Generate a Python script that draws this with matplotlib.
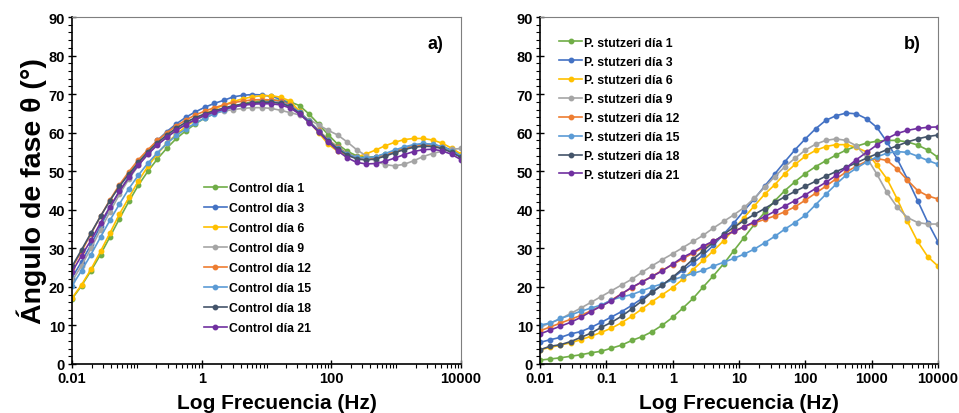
import numpy as np
import matplotlib
matplotlib.use('Agg')
import matplotlib.pyplot as plt
from matplotlib.ticker import LogLocator, FixedLocator, MultipleLocator, NullFormatter

plt.rcParams['font.family'] = ['Liberation Sans', 'DejaVu Sans']

# frequency grids (Hz)
freq_a = [0.01, 0.01401, 0.01963, 0.0275, 0.03852, 0.05393, 0.07551, 0.1058,
          0.1482, 0.2075, 0.2906, 0.4072, 0.5703, 0.7989, 1.119, 1.567, 2.195,
          3.075, 4.307, 6.033, 8.45, 11.84, 16.58, 23.22, 32.52, 45.56, 63.81,
          89.39, 125.2, 175.4, 245.6, 344.1, 482.0, 675.1, 945.4, 1324, 1855,
          2598, 3640, 5098, 7141, 10000]
freq_b = [0.01, 0.01425, 0.02031, 0.02894, 0.04125, 0.05878, 0.08377, 0.1194,
          0.1701, 0.2424, 0.3455, 0.4924, 0.7017, 1.0, 1.425, 2.031, 2.894,
          4.125, 5.878, 8.377, 11.94, 17.01, 24.24, 34.55, 49.24, 70.17, 100,
          142.5, 203.1, 289.4, 412.5, 587.8, 837.7, 1194, 1701, 2424, 3455,
          4924, 7017, 10000]

# a) control
ctrl_1 = [16.9, 20.3, 24.2, 28.4, 33.0, 37.7, 42.2, 46.4, 50.0, 53.2, 56.0, 58.5,
          60.5, 62.3, 63.8, 65.0, 66.0, 66.8, 67.5, 68.0, 68.3, 68.5, 68.4, 68.0,
          67.0, 64.8, 62.2, 59.5, 57.0, 55.2, 54.0, 53.6, 53.8, 54.4, 55.2, 56.0,
          56.6, 56.9, 56.9, 56.4, 55.4, 54.0]
ctrl_3 = [22.4, 26.5, 31.0, 35.8, 40.5, 44.8, 48.6, 52.2, 55.2, 58.0, 60.3, 62.3,
          64.0, 65.4, 66.6, 67.6, 68.4, 69.3, 69.7, 69.9, 69.8, 69.4, 68.7, 67.3,
          65.0, 62.7, 60.5, 58.2, 56.2, 54.6, 53.6, 53.3, 53.6, 54.3, 55.2, 56.0,
          56.6, 57.0, 56.9, 56.4, 55.5, 54.3]
ctrl_6 = [17.1, 20.5, 24.6, 29.2, 34.0, 38.9, 43.2, 47.5, 51.3, 54.5, 57.3, 59.6,
          61.6, 63.3, 64.8, 66.1, 67.2, 68.1, 68.8, 69.3, 69.6, 69.6, 69.2, 68.2,
          65.5, 62.8, 60.0, 57.0, 55.2, 54.0, 53.7, 54.5, 55.5, 56.6, 57.5, 58.2,
          58.5, 58.5, 58.1, 57.3, 56.0, 54.5]
ctrl_9 = [21.5, 25.5, 30.0, 34.8, 39.5, 44.0, 48.0, 51.5, 54.5, 57.0, 59.0, 60.8,
          62.2, 63.4, 64.3, 65.0, 65.6, 66.0, 66.3, 66.5, 66.5, 66.3, 65.8, 65.2,
          64.6, 63.4, 62.0, 60.6, 59.4, 57.6, 55.6, 54.0, 52.6, 51.7, 51.4, 51.8,
          52.7, 53.8, 54.6, 55.2, 55.7, 55.9]
ctrl_12 = [25.0, 29.2, 33.8, 38.3, 42.6, 46.5, 49.9, 53.0, 55.6, 58.0, 60.0, 61.8,
           63.3, 64.6, 65.6, 66.5, 67.2, 67.8, 68.2, 68.5, 68.6, 68.5, 68.1, 67.2,
           65.3, 63.0, 60.6, 58.2, 56.2, 54.6, 53.6, 53.3, 53.6, 54.3, 55.1, 55.9,
           56.5, 56.8, 56.7, 56.2, 55.2, 53.8]
ctrl_15 = [20.3, 24.2, 28.4, 32.9, 37.3, 41.5, 45.5, 49.0, 52.1, 54.8, 57.2, 59.3,
           61.0, 62.5, 63.8, 64.9, 65.8, 66.6, 67.2, 67.6, 67.9, 68.0, 67.8, 67.0,
           65.3, 63.0, 60.5, 58.0, 56.0, 54.5, 53.6, 53.4, 53.8, 54.6, 55.5, 56.3,
           56.9, 57.2, 57.0, 56.4, 55.3, 54.0]
ctrl_18 = [25.3, 29.6, 34.0, 38.3, 42.4, 46.1, 49.3, 52.3, 55.0, 57.4, 59.4, 61.2,
           62.7, 63.9, 64.9, 65.7, 66.4, 67.0, 67.4, 67.7, 67.9, 67.9, 67.6, 66.8,
           65.0, 62.7, 60.3, 57.9, 55.8, 54.2, 53.2, 52.9, 53.2, 53.9, 54.8, 55.6,
           56.2, 56.5, 56.4, 55.9, 54.9, 53.6]
ctrl_21 = [23.9, 28.1, 32.1, 36.6, 40.8, 44.8, 48.4, 51.6, 54.4, 56.8, 58.8, 60.6,
           62.1, 63.4, 64.5, 65.4, 66.1, 66.7, 67.1, 67.4, 67.5, 67.5, 67.2, 66.4,
           64.8, 62.6, 60.2, 57.6, 55.3, 53.5, 52.3, 51.9, 52.0, 52.6, 53.4, 54.3,
           55.1, 55.6, 55.7, 55.3, 54.4, 53.0]

# b) P. stutzeri
ps_1 = [1.0, 1.3, 1.6, 2.0, 2.4, 2.9, 3.3, 4.1, 4.9, 6.1, 7.1, 8.4, 10.1, 12.1,
        14.5, 17.0, 20.0, 22.9, 26.0, 29.4, 32.8, 36.2, 39.3, 42.3, 45.0, 47.3,
        49.4, 51.2, 52.7, 54.2, 55.5, 56.5, 57.3, 57.8, 58.0, 58.0, 57.6, 56.8,
        55.5, 53.6]
ps_3 = [5.6, 6.3, 6.9, 7.8, 8.4, 9.5, 10.8, 12.2, 13.6, 15.2, 17.0, 18.8, 20.5,
        22.4, 24.3, 26.2, 28.3, 30.8, 33.7, 36.6, 39.8, 42.8, 46.1, 49.3, 52.5,
        55.6, 58.4, 61.0, 63.2, 64.4, 65.1, 64.9, 63.6, 61.4, 57.6, 53.2, 48.0,
        42.4, 36.7, 31.7]
ps_6 = [3.7, 4.3, 4.9, 5.5, 6.3, 7.2, 8.2, 9.3, 10.7, 12.4, 14.3, 16.2, 18.0,
        19.8, 22.0, 24.5, 26.9, 29.4, 32.0, 35.0, 38.0, 41.0, 44.0, 46.5, 49.4,
        51.8, 53.9, 55.4, 56.4, 56.9, 56.9, 56.2, 55.0, 51.6, 48.0, 42.8, 37.0,
        31.8, 27.8, 25.4]
ps_9 = [9.6, 10.6, 11.7, 13.1, 14.5, 16.0, 17.5, 19.0, 20.5, 22.0, 23.8, 25.5,
        27.1, 28.6, 30.2, 31.8, 33.4, 35.3, 37.0, 38.7, 40.6, 43.0, 45.8, 48.6,
        51.2, 53.4, 55.5, 57.0, 58.0, 58.4, 58.0, 56.6, 53.6, 49.3, 44.5, 40.7,
        38.0, 36.7, 36.3, 36.3]
ps_12 = [8.6, 9.6, 10.6, 11.6, 12.6, 13.8, 15.1, 16.6, 18.2, 19.8, 21.3, 22.8,
         24.3, 25.8, 27.3, 28.8, 30.2, 31.8, 33.2, 34.4, 35.6, 36.6, 37.5, 38.4,
         39.5, 40.8, 42.5, 44.3, 46.1, 48.0, 49.8, 51.3, 52.6, 53.3, 52.8, 50.6,
         47.7, 45.0, 43.6, 42.8]
ps_15 = [10.1, 10.6, 11.8, 12.7, 13.7, 14.5, 15.3, 16.6, 17.4, 18.0, 19.0, 20.0,
         20.8, 21.8, 22.7, 23.5, 24.3, 25.4, 26.4, 27.4, 28.5, 29.8, 31.4, 33.1,
         35.0, 36.7, 38.6, 41.3, 44.0, 46.6, 49.0, 50.8, 52.4, 53.7, 54.7, 55.1,
         54.9, 53.9, 52.8, 51.8]
ps_18 = [3.7, 4.6, 5.0, 5.8, 6.9, 8.0, 9.5, 10.8, 12.4, 14.3, 16.4, 18.6, 20.5,
         22.5, 24.8, 27.2, 29.4, 31.6, 33.6, 35.5, 37.2, 38.8, 40.3, 41.9, 43.4,
         44.8, 46.1, 47.4, 48.7, 49.9, 51.0, 52.2, 53.4, 54.5, 55.6, 56.6, 57.6,
         58.4, 59.0, 59.4]
ps_21 = [7.8, 8.8, 9.8, 10.8, 12.1, 13.6, 15.0, 16.4, 18.2, 19.9, 21.3, 22.7,
         24.2, 25.9, 27.7, 29.0, 30.6, 31.9, 33.2, 34.4, 35.6, 36.9, 38.2, 39.6,
         41.0, 42.4, 43.9, 45.5, 47.1, 48.9, 50.9, 53.0, 54.9, 56.8, 58.5, 59.8,
         60.6, 61.1, 61.4, 61.5]

days = ['1', '3', '6', '9', '12', '15', '18', '21']
colors = ['#70AD47', '#4472C4', '#FFC000', '#A5A5A5', '#ED7D31', '#5B9BD5',
          '#44546A', '#7030A0']
ctrl = [ctrl_1, ctrl_3, ctrl_6, ctrl_9, ctrl_12, ctrl_15, ctrl_18, ctrl_21]
ps = [ps_1, ps_3, ps_6, ps_9, ps_12, ps_15, ps_18, ps_21]

fig = plt.figure(figsize=(9.59, 4.14), dpi=100)
ax1 = fig.add_axes([0.0751, 0.1184, 0.4056, 0.838])
ax2 = fig.add_axes([0.5631, 0.1184, 0.415, 0.838])


def style_axis(ax, majors, labels):
    ax.set_xscale('log')
    ax.set_xlim(0.01, 10000)
    ax.set_ylim(0, 90)
    ax.xaxis.set_major_locator(FixedLocator(majors))
    ax.set_xticklabels(labels)
    ax.xaxis.set_minor_locator(LogLocator(base=10, subs=np.arange(1, 10), numticks=20))
    ax.xaxis.set_minor_formatter(NullFormatter())
    ax.yaxis.set_major_locator(MultipleLocator(10))
    ax.yaxis.set_minor_locator(MultipleLocator(2))
    ax.tick_params(which='major', direction='inout', length=6, width=1,
                   labelsize=10.5, pad=2)
    ax.tick_params(which='minor', direction='out', length=3, width=0.8)
    for lbl in ax.get_xticklabels() + ax.get_yticklabels():
        lbl.set_fontweight('bold')
    ax.spines['left'].set_color('black')
    ax.spines['bottom'].set_color('black')
    ax.spines['left'].set_linewidth(1.2)
    ax.spines['bottom'].set_linewidth(1.2)
    ax.spines['top'].set_color('#7f7f7f')
    ax.spines['right'].set_color('#7f7f7f')
    ax.set_xlabel('Log Frecuencia (Hz)', fontsize=15, fontweight='bold', labelpad=6)


for vals, c, d in zip(ctrl, colors, days):
    ax1.plot(freq_a, vals, '-o', color=c, lw=1.2, ms=3.2, label='Control día ' + d)
for vals, c, d in zip(ps, colors, days):
    ax2.plot(freq_b, vals, '-o', color=c, lw=1.2, ms=3.2, label='P. stutzeri día ' + d)

style_axis(ax1, [0.01, 1, 100, 10000], ['0.01', '1', '100', '10000'])
style_axis(ax2, [0.01, 0.1, 1, 10, 100, 1000, 10000],
           ['0.01', '0.1', '1', '10', '100', '1000', '10000'])
ax1.xaxis.label.set_x(0.527)

ax1.set_ylabel('Ángulo de fase θ (°)', fontsize=20.5, fontweight='bold', labelpad=1)

leg_kw = dict(frameon=False, handlelength=1.9, handletextpad=0.15,
              prop={'weight': 'bold', 'size': 8.8})
ax1.legend(loc='upper left', bbox_to_anchor=(0.31, 0.555), labelspacing=0.65, **leg_kw)
ax2.legend(loc='upper left', bbox_to_anchor=(0.02, 0.975), labelspacing=0.56, **leg_kw)

ax1.text(0.935, 0.925, 'a)', transform=ax1.transAxes, fontsize=13,
         fontweight='bold', ha='center', va='center')
ax2.text(0.935, 0.925, 'b)', transform=ax2.transAxes, fontsize=13,
         fontweight='bold', ha='center', va='center')

fig.savefig('out.png', dpi=100)
